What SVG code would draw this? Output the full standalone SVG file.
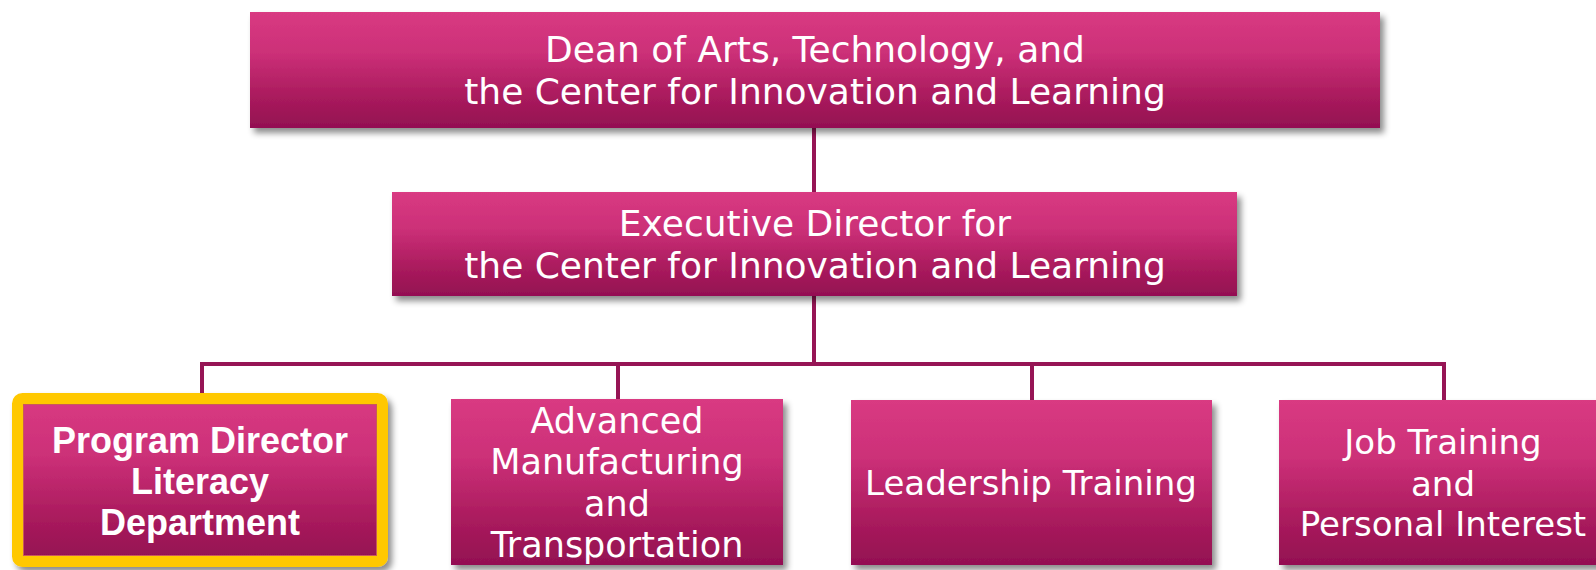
<svg xmlns="http://www.w3.org/2000/svg" width="1596" height="570" viewBox="0 0 1596 570">
<defs>
<linearGradient id="g" x1="0" y1="0" x2="0" y2="1">
<stop offset="0" stop-color="#D93A82"/>
<stop offset="0.35" stop-color="#CC3078"/>
<stop offset="0.75" stop-color="#A81A5C"/>
<stop offset="1" stop-color="#931052"/>
</linearGradient>
<filter id="sh" x="-5%" y="-10%" width="115%" height="130%">
<feDropShadow dx="4" dy="5" stdDeviation="3" flood-color="#000" flood-opacity="0.45"/>
</filter>
<style>
.box{fill:url(#g);filter:url(#sh)}
.t{fill:#fff;font-family:"DejaVu Sans",sans-serif;font-size:36px;text-anchor:middle}
.b{fill:#fff;font-family:"Liberation Sans",Arial,sans-serif;font-weight:bold;font-size:36px;text-anchor:middle}
.c{stroke:#961555;stroke-width:4;fill:none}
</style>
</defs>
<g id="connectors">
<line class="c" x1="814" y1="126" x2="814" y2="194"/>
<line class="c" x1="814" y1="294" x2="814" y2="364"/>
<polyline class="c" points="202,395 202,364 1444,364 1444,402"/>
<line class="c" x1="618" y1="364" x2="618" y2="401"/>
<line class="c" x1="1032" y1="364" x2="1032" y2="402"/>
</g>
<g id="dean">
<rect class="box" x="250" y="12" width="1130" height="116"/>
<text class="t" x="815" y="62">Dean of Arts, Technology, and</text>
<text class="t" x="815" y="104">the Center for Innovation and Learning</text>
</g>
<g id="executive">
<rect class="box" x="392" y="192" width="845" height="104"/>
<text class="t" x="815" y="236">Executive Director for</text>
<text class="t" x="815" y="278">the Center for Innovation and Learning</text>
</g>
<g id="literacy">
<rect x="17.5" y="398.5" width="365" height="163" rx="5" fill="url(#g)" stroke="#FFC800" stroke-width="11" filter="url(#sh)"/>
<rect x="23.5" y="404.5" width="353" height="151" fill="none" stroke="#C85A5A" stroke-width="1"/>
<text class="b" x="200" y="453">Program Director</text>
<text class="b" x="200" y="494">Literacy</text>
<text class="b" x="200" y="535">Department</text>
</g>
<g id="manufacturing">
<rect class="box" x="451" y="399" width="332" height="166"/>
<text class="t" x="617" y="433" style="font-size:35px">Advanced</text>
<text class="t" x="617" y="474" style="font-size:35px">Manufacturing</text>
<text class="t" x="617" y="516" style="font-size:35px">and</text>
<text class="t" x="617" y="557" style="font-size:35px">Transportation</text>
</g>
<g id="leadership">
<rect class="box" x="851" y="400" width="361" height="165"/>
<text class="t" x="1031" y="495" style="font-size:34px">Leadership Training</text>
</g>
<g id="jobtraining">
<rect class="box" x="1279" y="400" width="330" height="165"/>
<text class="t" x="1443" y="454" style="font-size:34px">Job Training</text>
<text class="t" x="1443" y="496" style="font-size:34px">and</text>
<text class="t" x="1443" y="536" style="font-size:34px">Personal Interest</text>
</g>
</svg>
